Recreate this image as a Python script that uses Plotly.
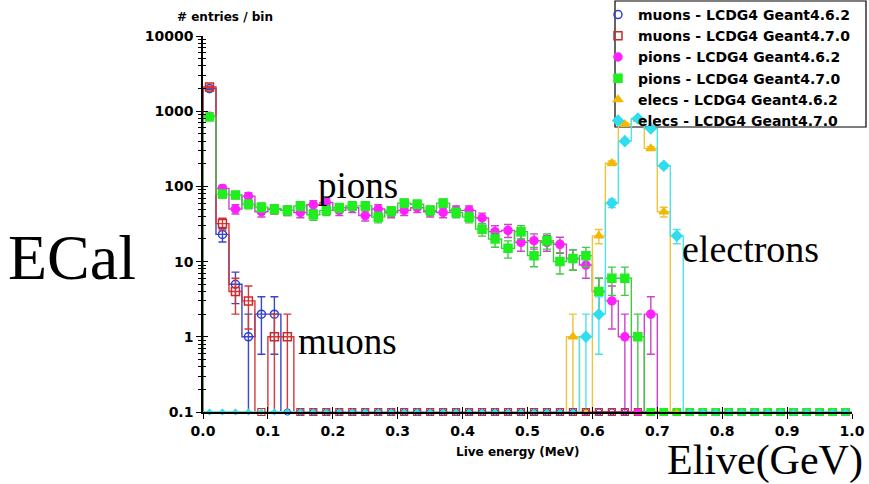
import numpy as np
import plotly.graph_objects as go

# Live-energy histograms in the ECal: 50 bins of 0.02 between 0 and 1
BIN_WIDTH = 0.02
N_BINS = 50
FLOOR = 0.1  # empty bins are drawn on the lower edge of the log axis

edges = np.round(np.arange(N_BINS + 1) * BIN_WIDTH, 4)
centers = np.round(edges[:-1] + BIN_WIDTH / 2, 4)

# entries per bin
muons_g462 = [2000, 23, 5, 1, 2, 2, 0, 0, 0, 0,
              0, 0, 0, 0, 0, 0, 0, 0, 0, 0,
              0, 0, 0, 0, 0, 0, 0, 0, 0, 0,
              0, 0, 0, 0, 0, 0, 0, 0, 0, 0,
              0, 0, 0, 0, 0, 0, 0, 0, 0, 0]
muons_g470 = [2100, 32, 4, 3, 0, 1, 1, 0, 0, 0,
              0, 0, 0, 0, 0, 0, 0, 0, 0, 0,
              0, 0, 0, 0, 0, 0, 0, 0, 0, 0,
              0, 0, 0, 0, 0, 0, 0, 0, 0, 0,
              0, 0, 0, 0, 0, 0, 0, 0, 0, 0]
pions_g462 = [860, 94, 50, 74, 46, 50, 48, 45, 57, 61,
              48, 52, 41, 50, 45, 48, 52, 46, 45, 48,
              48, 38, 25, 26, 18, 19, 18, 17, 11, 9,
              4, 3, 1, 0, 2, 0, 0, 0, 0, 0,
              0, 0, 0, 0, 0, 0, 0, 0, 0, 0]
pions_g470 = [840, 79, 77, 58, 53, 50, 48, 55, 42, 48,
              52, 55, 55, 39, 47, 60, 58, 48, 60, 45,
              39, 27, 20, 15, 25, 12, 19, 10, 11, 12,
              4, 6, 6, 1, 0, 0, 0, 0, 0, 0,
              0, 0, 0, 0, 0, 0, 0, 0, 0, 0]
elecs_g462 = [0, 0, 0, 0, 0, 0, 0, 0, 0, 0,
              0, 0, 0, 0, 0, 0, 0, 0, 0, 0,
              0, 0, 0, 0, 0, 0, 0, 0, 1, 0,
              22, 203, 670, 780, 320, 46, 0, 0, 0, 0,
              0, 0, 0, 0, 0, 0, 0, 0, 0, 0]
elecs_g470 = [0, 0, 0, 0, 0, 0, 0, 0, 0, 0,
              0, 0, 0, 0, 0, 0, 0, 0, 0, 0,
              0, 0, 0, 0, 0, 0, 0, 0, 0, 1,
              2, 60, 400, 800, 590, 188, 22, 0, 0, 0,
              0, 0, 0, 0, 0, 0, 0, 0, 0, 0]

x_ticks = [0.0, 0.1, 0.2, 0.3, 0.4, 0.5, 0.6, 0.7, 0.8, 0.9, 1.0]
x_tick_text = ["0.0", "0.1", "0.2", "0.3", "0.4", "0.5", "0.6", "0.7", "0.8", "0.9", "1.0"]
y_ticks = [0.1, 1, 10, 100, 1000, 10000]
y_tick_text = ["0.1", "1", "10", "100", "1000", "10000"]

series = [
    dict(name="muons - LCDG4 Geant4.6.2", counts=muons_g462, line="#3a45c8",
         marker="#2f3fd0", symbol="circle-open", floor_size=6),
    dict(name="muons - LCDG4 Geant4.7.0", counts=muons_g470, line="#d23a3a",
         marker="#cc2a2a", symbol="square-open", floor_size=7),
    dict(name="pions - LCDG4 Geant4.6.2", counts=pions_g462, line="#cc44cc",
         marker="#ff1fff", symbol="circle", floor_size=6),
    dict(name="pions - LCDG4 Geant4.7.0", counts=pions_g470, line="#44c844",
         marker="#1fee1f", symbol="square", floor_size=7),
    dict(name="elecs - LCDG4 Geant4.6.2", counts=elecs_g462, line="#f2c23a",
         marker="#f5b800", symbol="triangle-up", floor_size=5),
    dict(name="elecs - LCDG4 Geant4.7.0", counts=elecs_g470, line="#4ee2ee",
         marker="#30dced", symbol="diamond", floor_size=4),
]


def outline(counts):
    """Step outline of a histogram, closed down to the axis floor."""
    xs, ys = [float(edges[0])], [FLOOR]
    for i, c in enumerate(counts):
        v = c if c > 0 else FLOOR
        xs += [float(edges[i]), float(edges[i + 1])]
        ys += [v, v]
    xs.append(float(edges[-1]))
    ys.append(FLOOR)
    return xs, ys


fig = go.Figure()

# outlines and filled bins with sqrt(N) error bars
for s in series:
    counts = np.array(s["counts"], dtype=float)
    ox, oy = outline(s["counts"])
    fig.add_trace(go.Scatter(x=ox, y=oy, mode="lines", showlegend=False,
                             line=dict(color=s["line"], width=1.4),
                             hoverinfo="skip"))
    nz = counts > 0
    fig.add_trace(go.Scatter(
        x=centers[nz], y=counts[nz], mode="markers", name=s["name"],
        marker=dict(symbol=s["symbol"], size=8, color=s["marker"],
                    line=dict(color=s["marker"], width=1.5)),
        error_y=dict(type="data", array=np.sqrt(counts[nz]), visible=True,
                     color=s["line"], thickness=1.4, width=4),
    ))

# empty bins sit on the floor of the axis
for s in series:
    counts = np.array(s["counts"], dtype=float)
    z = counts == 0
    fig.add_trace(go.Scatter(
        x=centers[z], y=np.full(z.sum(), FLOOR), mode="markers",
        showlegend=False, cliponaxis=False, hoverinfo="skip",
        marker=dict(symbol=s["symbol"], size=s["floor_size"], color=s["marker"],
                    line=dict(color=s["marker"], width=1.2)),
    ))

# companion axes give ticks that cross the axis lines
fig.add_trace(go.Scatter(x=[], y=[], xaxis="x2", yaxis="y2", showlegend=False))

L, R, T, B = 203, 17, 36, 72
W, H = 869, 484
PW, PH = W - L - R, H - T - B


def px(x):
    return (x - L) / PW


def py(y):
    return (H - B - y) / PH


minor_vals = [m * 10.0 ** k for k in range(-1, 4) for m in range(2, 10)]
bold14 = dict(family="DejaVu Sans", size=14, color="black", weight="bold")

fig.update_layout(
    width=W, height=H,
    margin=dict(l=L, r=R, t=T, b=B, pad=0, autoexpand=False),
    paper_bgcolor="white", plot_bgcolor="rgba(0,0,0,0)",
    font=dict(family="DejaVu Sans", color="black"),
    xaxis=dict(range=[0, 1], showgrid=False, zeroline=False,
               showline=True, linecolor="black", linewidth=1.5,
               ticks="outside", ticklen=5, tickwidth=1.2, tickcolor="black",
               tickvals=x_ticks, ticktext=x_tick_text, tickfont=bold14),
    yaxis=dict(type="log", range=[-1, 4], showgrid=False, zeroline=False,
               showline=True, linecolor="black", linewidth=1.5,
               ticks="outside", ticklen=5, tickwidth=1.2, tickcolor="black",
               tickvals=y_ticks, ticktext=y_tick_text,
               minor=dict(ticks="outside", ticklen=3, tickwidth=1, tickcolor="black",
                          tickvals=minor_vals),
               tickfont=bold14),
    xaxis2=dict(range=[0, 1], overlaying="x", anchor="y2", showgrid=False,
                zeroline=False, showline=False, showticklabels=False,
                ticks="inside", ticklen=5, tickwidth=1.2, tickcolor="black",
                tickvals=x_ticks),
    yaxis2=dict(type="log", range=[-1, 4], overlaying="y", anchor="x2", side="left",
                showgrid=False, zeroline=False, showline=False, showticklabels=False,
                ticks="inside", ticklen=5, tickwidth=1.2, tickcolor="black",
                tickvals=y_ticks,
                minor=dict(ticks="inside", ticklen=3, tickwidth=1, tickcolor="black",
                           tickvals=minor_vals)),
    legend=dict(x=px(598), y=py(-1), xanchor="left", yanchor="top",
                bgcolor="rgba(0,0,0,0)", borderwidth=0,
                font=dict(family="DejaVu Sans", size=14, color="black", weight="bold"),
                itemwidth=30, tracegroupgap=0),
    showlegend=True,
)

# legend frame
fig.add_shape(type="rect", xref="paper", yref="paper",
              x0=px(615), x1=px(866), y0=py(127), y1=py(1),
              line=dict(color="black", width=1.2), fillcolor="rgba(0,0,0,0)",
              layer="below")

serif = "Liberation Serif"
annotations = [
    dict(text="# entries / bin", x=px(225), y=py(17), size=12, family="DejaVu Sans", bold=True),
    dict(text="Live energy (MeV)", x=px(518), y=py(452), size=12, family="DejaVu Sans", bold=True),
    dict(text="ECal", x=px(72), y=py(257), size=64, family=serif, bold=False),
    dict(text="pions", x=px(358), y=py(185), size=37, family=serif, bold=False),
    dict(text="muons", x=px(347), y=py(341), size=37, family=serif, bold=False),
    dict(text="electrons", x=px(750), y=py(249), size=38, family=serif, bold=False),
    dict(text="Elive(GeV)", x=px(765), y=py(460), size=42, family=serif, bold=False),
]
for a in annotations:
    fig.add_annotation(
        text=a["text"], x=a["x"], y=a["y"], xref="paper", yref="paper",
        xanchor="center", yanchor="middle", showarrow=False,
        font=dict(family=a["family"], size=a["size"], color="black",
                  weight="bold" if a["bold"] else "normal"),
    )

fig.write_html("out.html")
